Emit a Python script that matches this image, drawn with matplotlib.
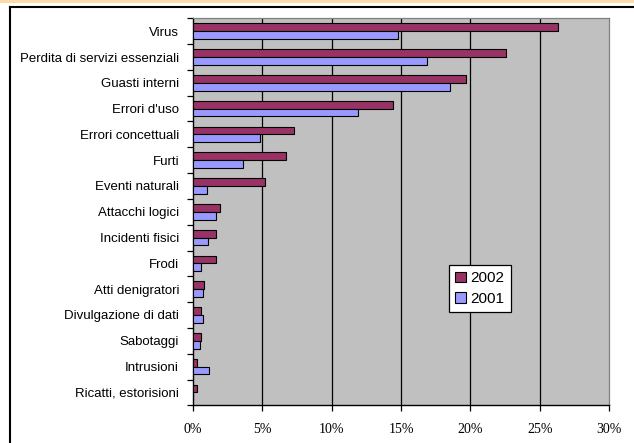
import numpy as np
import matplotlib
matplotlib.use('Agg')
import matplotlib.pyplot as plt
from matplotlib.patches import Patch, Rectangle
from matplotlib.lines import Line2D
from matplotlib.ticker import PercentFormatter

categories = ['Virus', 'Perdita di servizi essenziali', 'Guasti interni', "Errori d'uso",
              'Errori concettuali', 'Furti', 'Eventi naturali', 'Attacchi logici',
              'Incidenti fisici', 'Frodi', 'Atti denigratori', 'Divulgazione di dati',
              'Sabotaggi', 'Intrusioni', 'Ricatti, estorisioni']
y2002 = [26.3, 22.6, 19.7, 14.4, 7.3, 6.7, 5.2, 1.95, 1.66, 1.66, 0.8, 0.58, 0.58, 0.29, 0.29]
y2001 = [14.8, 16.9, 18.5, 11.9, 4.8, 3.6, 1.0, 1.66, 1.08, 0.58, 0.72, 0.72, 0.48, 1.15, 0.0]
xticks = [0, 5, 10, 15, 20, 25, 30]

c2002 = '#993366'
c2001 = '#9999ff'

fig = plt.figure(figsize=(6.34, 4.43), dpi=100)
fig.patch.set_facecolor('white')

# page decoration: peach strip and black frame
fig.patches.append(Rectangle((0, 1 - 2.5/443), 1, 2.5/443, transform=fig.transFigure,
                             facecolor='#fbdca8', edgecolor='none'))
fig.lines.append(Line2D([10/634, 1], [1 - 6.5/443, 1 - 6.5/443], transform=fig.transFigure,
                        color='black', lw=1.5))
fig.lines.append(Line2D([10/634, 10/634], [0, 1 - 6.5/443], transform=fig.transFigure,
                        color='black', lw=1.5))

ax = fig.add_axes([193/634, (443-405.3)/443, 416/634, (405.3-18.3)/443])
ax.set_facecolor('#c0c0c0')

n = len(categories)
y = np.arange(n)
h = 0.3
ax.barh(y - h/2, y2002, h, color=c2002, edgecolor='black', lw=0.8, zorder=3)
ax.barh(y + h/2, y2001, h, color=c2001, edgecolor='black', lw=0.8, zorder=3)

ax.set_ylim(n - 0.5, -0.5)
ax.set_xlim(0, 30)
ax.set_xticks(xticks)
ax.xaxis.set_major_formatter(PercentFormatter(decimals=0))
for x in xticks[1:-1]:
    ax.axvline(x, color='black', lw=0.9, zorder=1)

ax.set_yticks(y)
ax.set_yticklabels(categories, fontsize=9.5, family='Liberation Sans')
ax.set_yticks(np.arange(n + 1) - 0.5, minor=True)
ax.tick_params(axis='y', which='major', length=0, pad=10)
ax.tick_params(axis='y', which='minor', length=4, width=0.9, direction='out')
ax.tick_params(axis='x', length=4, width=0.9, direction='out', pad=9)
for lab in ax.get_xticklabels():
    lab.set_fontfamily('Liberation Serif')
    lab.set_fontsize(10)

for s in ['top', 'right']:
    ax.spines[s].set_color('#808080')
    ax.spines[s].set_linewidth(0.9)
for s in ['left', 'bottom']:
    ax.spines[s].set_color('black')
    ax.spines[s].set_linewidth(1.0)

handles = [Patch(facecolor=c2002, edgecolor='black', lw=0.8, label='2002'),
           Patch(facecolor=c2001, edgecolor='black', lw=0.8, label='2001')]
leg = fig.legend(handles=handles, loc='lower left', bbox_to_anchor=(449/634, (443-312.3)/443),
                 bbox_transform=fig.transFigure, borderaxespad=0, fancybox=False,
                 framealpha=1, edgecolor='black', prop={'family': 'Liberation Sans', 'size': 11},
                 handlelength=0.7, handleheight=0.7, handletextpad=0.3, labelspacing=0.45,
                 borderpad=0.4)
leg.get_frame().set_linewidth(0.9)

fig.savefig('out.png', dpi=100)
